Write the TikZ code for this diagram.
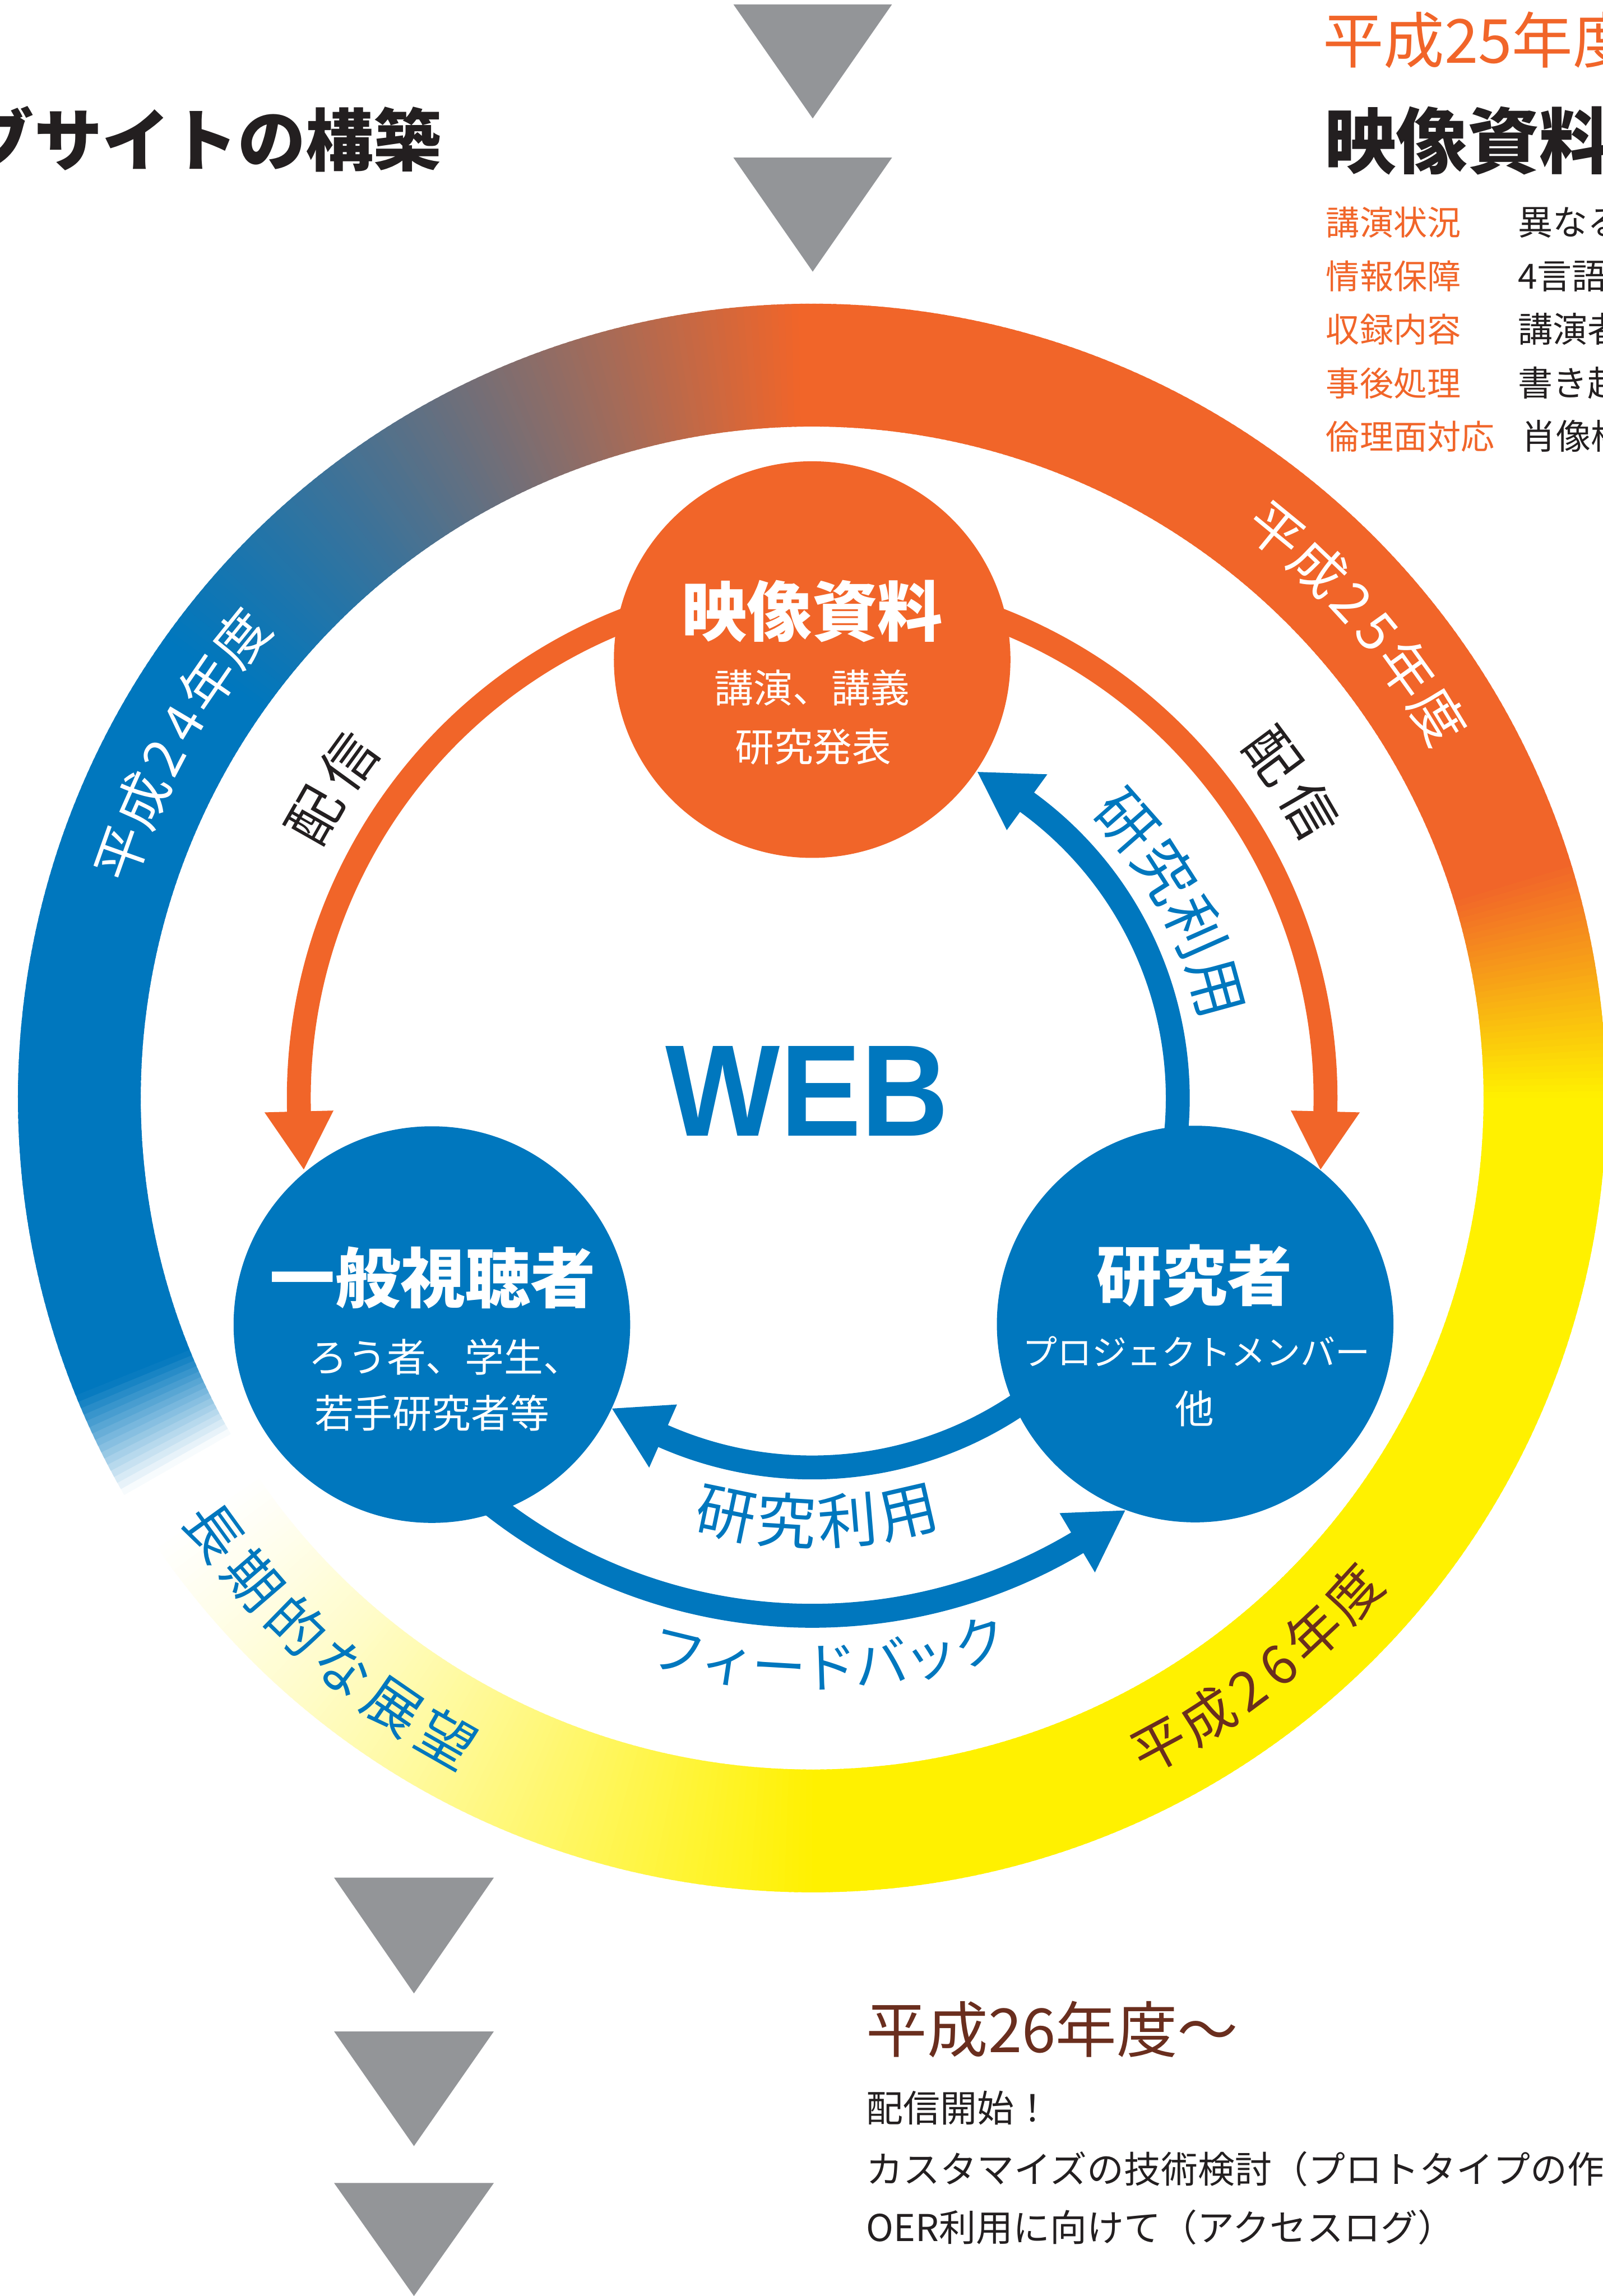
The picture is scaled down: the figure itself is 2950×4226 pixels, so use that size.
\documentclass[tikz,border=0pt]{standalone}
\usepackage{fontspec}
\usepackage{graphicx}
\usetikzlibrary{calc}
\newfontfamily\jp{Noto Sans CJK JP}
\newfontfamily\lsans{Liberation Sans}
\definecolor{rblue}{RGB}{0,119,190}
\definecolor{rorange}{RGB}{241,101,41}
\definecolor{ryellow}{RGB}{255,241,0}
\definecolor{rgray}{RGB}{147,149,152}
\definecolor{rbrown}{RGB}{106,46,30}
\definecolor{rblack}{RGB}{35,31,32}
\newcommand{\setfs}[1]{\fontsize{#1pt}{#1pt}\selectfont}
\newcommand{\arcout}[4]{%
  \foreach \ang/\ch [count=\i] in {#4}{%
    \node[#3, rotate={-1*(\ang)-90}] (#1\i) at ($(ctr)+(\ang:#2)$) {\ch};
  }}
\newcommand{\arcin}[4]{%
  \foreach \ang/\ch [count=\i] in {#4}{%
    \node[#3, rotate={-1*(\ang)+90}] (#1\i) at ($(ctr)+(\ang:#2)$) {\ch};
  }}
\begin{document}
\begin{tikzpicture}[x=0.2pt,y=-0.2pt,
  rc20/.style={inner sep=0pt, font=\jp\setfs{20}, text height=17.6pt, text depth=2.4pt},
  rc208/.style={inner sep=0pt, font=\jp\setfs{20.8}, text height=18.3pt, text depth=2.5pt},
  rc22/.style={inner sep=0pt, font=\jp\setfs{22}, text height=19.36pt, text depth=2.64pt},
  hub/.style={circle, minimum size=146pt, inner sep=0pt},
  ttl/.style={inner sep=0pt, anchor=base, text=white, font=\jp\bfseries\setfs{24}},
  sub/.style={inner sep=0pt, anchor=base, text=white, font=\jp\setfs{14.4}},
  shaft/.style={line width=8.8pt},
  tri/.style={fill=rgray},
  plain/.style={inner sep=0pt, anchor=base west}
]
\useasboundingbox (0,0) rectangle (2950,4226);
\fill[white] (0,0) rectangle (2950,4226);
\coordinate (ctr) at (1495,2021);

% ---- ring ----
\foreach \a in {-90,-89.5,...,269.5}{%
  \pgfmathsetmacro{\am}{\a+0.25}%
  \pgfmathsetmacro{\xm}{1495+1349*cos(\am)}%
  \pgfmathsetmacro{\ym}{2021+1349*sin(\am)}%
  \ifdim\am pt<0pt
    \pgfmathsetmacro{\mixa}{100*min(1,max(0,(\ym-1620)/400))}%
    \colorlet{segc}{ryellow!\mixa!rorange}%
  \else\ifdim\am pt<90pt
    \colorlet{segc}{ryellow}%
  \else\ifdim\am pt<180pt
    \pgfmathsetmacro{\mixa}{100*min(1,max(0,(\xm-380)/1120))}%
    \pgfmathsetmacro{\mixb}{100*min(1,max(0,(\am-150)/8))}%
    \colorlet{segb}{ryellow!\mixa!white}%
    \colorlet{segc}{rblue!\mixb!segb}%
  \else
    \pgfmathsetmacro{\mixa}{100*min(1,max(0,(\xm-395)/1080))}%
    \colorlet{segc}{rorange!\mixa!rblue}%
  \fi\fi\fi
  \draw[segc, line width=45.2pt] (ctr) ++(\a:1349) arc[start angle=\a, end angle=\a+0.8, radius=1349];
}

% ---- grey triangles ----
\fill[tri] (1350,8) -- (1642,8) -- (1496,218) -- cycle;
\fill[tri] (1350,290) -- (1642,290) -- (1496,500) -- cycle;
\fill[tri] (615,3456) -- (909,3456) -- (762,3669) -- cycle;
\fill[tri] (615,3739) -- (909,3739) -- (762,3950) -- cycle;
\fill[tri] (615,4018) -- (909,4018) -- (762,4226) -- cycle;

% ---- arrow shafts ----
\draw[shaft, rorange] (ctr) ++(-75:945) arc[start angle=-75, end angle=2.5, radius=945];
\draw[shaft, rorange] (ctr) ++(255:945) arc[start angle=255, end angle=177.5, radius=945];
\draw[shaft, rblue] (ctr) ++(10:673) arc[start angle=10, end angle=-55, radius=673];
\draw[shaft, rblue] (ctr) ++(50:680) arc[start angle=50, end angle=114.8, radius=680];
\draw[shaft, rblue] (ctr) ++(130:953) arc[start angle=130, end angle=58.2, radius=953];

% ---- hubs ----
\node[hub, fill=rorange] (src) at (1495,1214) {};
\node[hub, fill=rblue] (aud) at (795,2438) {};
\node[hub, fill=rblue] (res) at (2200,2437) {};

% ---- arrow heads ----
\fill[rorange] ($(ctr)+(1.5:881.5)$) -- ($(ctr)+(1.5:1008.5)$) -- ($(ctr)+(8:945)$) -- cycle;
\fill[rorange] ($(ctr)+(178.5:881.5)$) -- ($(ctr)+(178.5:1008.5)$) -- ($(ctr)+(172:945)$) -- cycle;
\fill[rblue] ($(ctr)+(-54:609.5)$) -- ($(ctr)+(-54:736.5)$) -- ($(ctr)+(-63.1:673)$) -- cycle;
\fill[rblue] ($(ctr)+(113.8:616.5)$) -- ($(ctr)+(113.8:743.5)$) -- ($(ctr)+(122.8:680)$) -- cycle;
\fill[rblue] ($(ctr)+(59.2:889.5)$) -- ($(ctr)+(59.2:1016.5)$) -- ($(ctr)+(52.8:953)$) -- cycle;

% ---- hub texts ----
\node[ttl] (srcT) at (1495,1170.6) {映像資料};
\node[sub] (srcA) at (1495,1293.4) {講演、講義};
\node[sub] (srcB) at (1497,1401.4) {研究発表};
\node[ttl] (audT) at (797,2397.6) {一般視聴者};
\node[sub, anchor=base west] (audA) at (567,2525.4) {ろう者、学生、};
\node[sub] (audB) at (795,2628.4) {若手研究者等};
\node[ttl] (resT) at (2199,2392.6) {研究者};
\node[sub, font=\jp\setfs{12.8}] (resA) at (2202,2512.3) {プロジェクトメンバー};
\node[sub] (resB) at (2199,2620.4) {他};

% ---- WEB ----
\node[inner sep=0pt, anchor=base, text=rblue, font=\lsans\bfseries\setfs{48}] (web) at (1486,2091) {\scalebox{0.93}[1]{WEB}};

% ---- curved labels ----
\arcout{ra-}{1350}{rc20, text=white}{199.55/平, 203.96/成, 207.7/2, 210.75/4, 214.49/年, 218.9/度}
\arcout{rb-}{1350}{rc20, text=white}{-50.73/平, -46.32/成, -42.58/2, -39.53/5, -35.79/年, -31.38/度}
\arcin{rc-}{1350}{rc20, text=rbrown}{61.78/平, 57.37/成, 53.63/2, 50.58/6, 46.84/年, 42.43/度}
\arcin{fut-}{1358}{rc208, text=rblue}{144.06/長, 139.19/期, 134.32/的, 129.45/な, 124.58/展, 119.71/望}
\arcin{fb-}{1047}{rc20, text=rblue}{103.6/フ, 98.47/ィ, 93.34/ー, 88.21/ド, 83.08/バ, 77.95/ッ, 72.82/ク}
\arcin{ua-}{779}{rc22, text=rblue}{101.7/研, 93.47/究, 85.23/利, 77.0/用}
\arcout{ub-}{773}{rc22, text=rblue}{-41.4/研, -32.7/究, -24.0/利, -15.3/用}
\arcout{da-}{1054}{rc20, text=rblack}{209.6/配, 216.0/信}
\arcout{db-}{1058}{rc20, text=rblack}{-36.6/配, -30.1/信}

% ---- top-left title ----
\node[inner sep=0pt, anchor=base east, text=rblack, font=\jp\bfseries\setfs{25}] (title) at (814,304.5) {ブサイトの構築};

% ---- top-right block ----
\node[plain, text=rorange, font=\jp\setfs{22.4}] (y25) at (2434,115.6) {平成25年度};
\node[plain, text=rblack, font=\jp\bfseries\setfs{26.4}] (y25t) at (2437,308.7) {映像資料};
\node[plain, text=rorange, font=\jp\setfs{12.4}] (k1) at (2440,432.6) {講演状況};
\node[plain, text=rorange, font=\jp\setfs{12.4}] (k2) at (2440,531.6) {情報保障};
\node[plain, text=rorange, font=\jp\setfs{12.4}] (k3) at (2440,629.6) {収録内容};
\node[plain, text=rorange, font=\jp\setfs{12.4}] (k4) at (2440,728.6) {事後処理};
\node[plain, text=rorange, font=\jp\setfs{12.4}] (k5) at (2440,826.6) {倫理面対応};
\node[plain, text=rblack, font=\jp\setfs{12.8}] (v1) at (2793,433.3) {異なる};
\node[plain, text=rblack, font=\jp\setfs{12.8}] (v2) at (2793,532.3) {4言語};
\node[plain, text=rblack, font=\jp\setfs{12.8}] (v3) at (2793,630.3) {講演者};
\node[plain, text=rblack, font=\jp\setfs{12.8}] (v4) at (2793,729.3) {書き起};
\node[plain, text=rblack, font=\jp\setfs{12.8}] (v5) at (2800,827.3) {肖像権};

% ---- bottom-right block ----
\node[plain, text=rbrown, font=\jp\setfs{22.4}] (y26) at (1594,3777.6) {平成26年度〜};
\node[plain, text=rblack, font=\jp\setfs{13.6}] (b1) at (1594,3905.8) {配信開始！};
\node[plain, text=rblack, font=\jp\setfs{13.6}] (b2) at (1594,4017.8) {カスタマイズの技術検討（プロトタイプの作};
\node[plain, text=rblack, font=\jp\setfs{13.6}] (b3) at (1594,4125.8) {OER利用に向けて（アクセスログ）};
\end{tikzpicture}
\end{document}
